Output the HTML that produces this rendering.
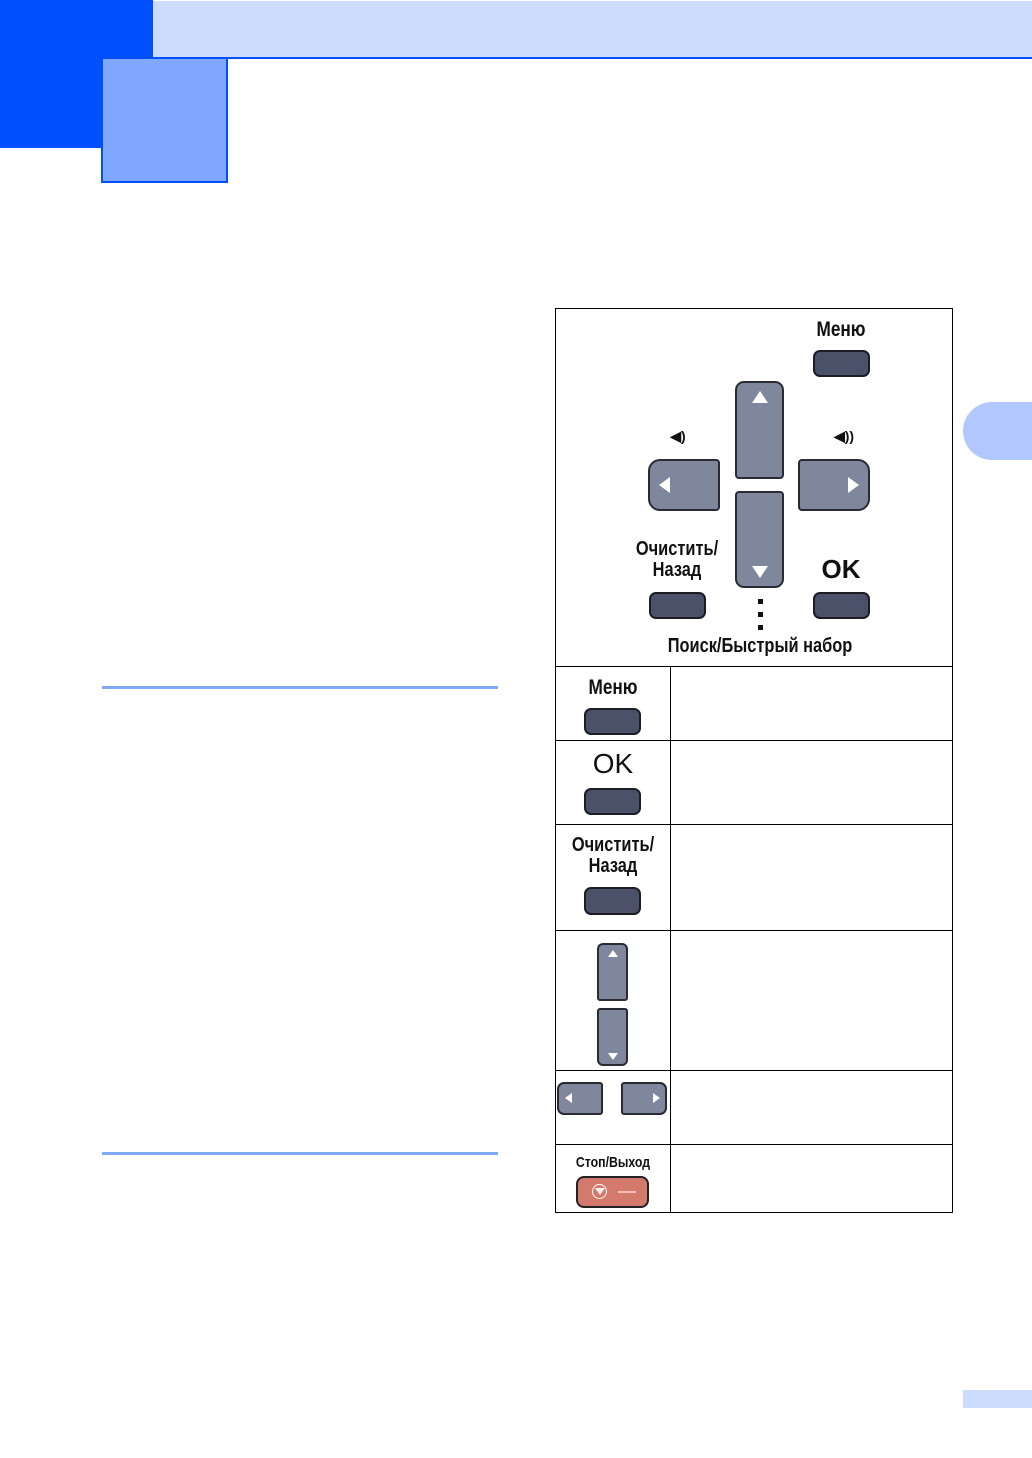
<!DOCTYPE html>
<html><head><meta charset="utf-8"><style>
html,body{margin:0;padding:0;}
body{width:1032px;height:1458px;position:relative;background:#fff;overflow:hidden;font-family:"Liberation Sans",sans-serif;}
.a{position:absolute;box-sizing:border-box;}
.dk{background:#4b5169;border:2px solid #1c1c24;border-radius:7px;}
.gr{background:#7f879d;border:2px solid #2a2a33;border-radius:6px;}
.t{position:absolute;font-weight:bold;color:#111;white-space:nowrap;transform:scaleX(0.82);transform-origin:center;text-align:center;}
.tri{position:absolute;width:0;height:0;}
.ln{position:absolute;background:#000;}
</style></head><body>
<div class="a" style="left:0;top:0;width:153px;height:148px;background:#0050ff"></div>
<div class="a" style="left:153px;top:1px;width:879px;height:56px;background:#ccdcff"></div>
<div class="a" style="left:153px;top:57px;width:879px;height:2px;background:#0050ff"></div>
<div class="a" style="left:101px;top:57px;width:127px;height:126px;background:#80a8ff;border:2px solid #0050ff"></div>
<div class="a" style="left:963px;top:402px;width:69px;height:58px;background:#b0c8ff;border-radius:29px 0 0 29px"></div>
<div class="a" style="left:963px;top:1390px;width:69px;height:18px;background:#ccdcff"></div>
<div class="a" style="left:102px;top:686px;width:396px;height:3px;background:#80a8ff"></div>
<div class="a" style="left:102px;top:1152px;width:396px;height:3px;background:#80a8ff"></div>

<!-- table -->
<div class="a" style="left:555px;top:308px;width:398px;height:905px;border:1px solid #000"></div>
<div class="ln" style="left:670px;top:666px;width:1px;height:546px"></div>
<div class="ln" style="left:555px;top:666px;width:398px;height:1px"></div>
<div class="ln" style="left:555px;top:740px;width:398px;height:1px"></div>
<div class="ln" style="left:555px;top:824px;width:398px;height:1px"></div>
<div class="ln" style="left:555px;top:930px;width:398px;height:1px"></div>
<div class="ln" style="left:555px;top:1070px;width:398px;height:1px"></div>
<div class="ln" style="left:555px;top:1144px;width:398px;height:1px"></div>

<!-- top panel -->
<div class="t" style="left:800px;top:318px;width:82px;font-size:21px">Меню</div>
<div class="a dk" style="left:813px;top:350px;width:57px;height:27px"></div>
<div class="a gr" style="left:735px;top:381px;width:49px;height:98px;border-radius:9px 9px 4px 4px"></div>
<div class="tri" style="left:752px;top:391px;border-left:8px solid transparent;border-right:8px solid transparent;border-bottom:12px solid #fff"></div>
<div class="a gr" style="left:735px;top:491px;width:49px;height:97px;border-radius:4px 4px 9px 9px"></div>
<div class="tri" style="left:752px;top:566px;border-left:8px solid transparent;border-right:8px solid transparent;border-top:12px solid #fff"></div>
<div class="a gr" style="left:648px;top:459px;width:72px;height:52px;border-radius:12px 4px 4px 12px"></div>
<div class="tri" style="left:659px;top:477px;border-top:8px solid transparent;border-bottom:8px solid transparent;border-right:11px solid #fff"></div>
<div class="a gr" style="left:798px;top:459px;width:72px;height:52px;border-radius:4px 12px 12px 4px"></div>
<div class="tri" style="left:848px;top:477px;border-top:8px solid transparent;border-bottom:8px solid transparent;border-left:11px solid #fff"></div>
<div class="t" style="left:660px;top:428px;width:36px;font-size:14px;transform:none">◀)</div>
<div class="t" style="left:826px;top:428px;width:36px;font-size:14px;transform:none">◀))</div>
<div class="t" style="left:620px;top:539px;width:114px;font-size:20px;line-height:21px">Очистить/<br>Назад</div>
<div class="t" style="left:810px;top:554px;width:62px;font-size:26px;transform:none">OK</div>
<div class="a dk" style="left:649px;top:592px;width:57px;height:27px"></div>
<div class="a dk" style="left:813px;top:592px;width:57px;height:27px"></div>
<div class="a" style="left:758px;top:599px;width:5px;height:5px;background:#111"></div>
<div class="a" style="left:758px;top:612px;width:5px;height:5px;background:#111"></div>
<div class="a" style="left:758px;top:625px;width:5px;height:5px;background:#111"></div>
<div class="t" style="left:640px;top:635px;width:240px;font-size:20px">Поиск/Быстрый набор</div>

<!-- rows -->
<div class="t" style="left:572px;top:676px;width:82px;font-size:21px">Меню</div>
<div class="a dk" style="left:584px;top:708px;width:57px;height:27px"></div>
<div class="t" style="left:580px;top:748px;width:66px;font-size:28px;transform:none;font-weight:normal">OK</div>
<div class="a dk" style="left:584px;top:788px;width:57px;height:27px"></div>
<div class="t" style="left:556px;top:835px;width:114px;font-size:20px;line-height:21px">Очистить/<br>Назад</div>
<div class="a dk" style="left:584px;top:887px;width:57px;height:28px"></div>

<div class="a gr" style="left:597px;top:943px;width:31px;height:58px;border-radius:6px 6px 3px 3px"></div>
<div class="tri" style="left:608px;top:950px;border-left:5px solid transparent;border-right:5px solid transparent;border-bottom:7px solid #fff"></div>
<div class="a gr" style="left:597px;top:1008px;width:31px;height:58px;border-radius:3px 3px 6px 6px"></div>
<div class="tri" style="left:608px;top:1053px;border-left:5px solid transparent;border-right:5px solid transparent;border-top:7px solid #fff"></div>
<div class="a gr" style="left:557px;top:1082px;width:46px;height:33px;border-radius:7px 3px 3px 7px"></div>
<div class="tri" style="left:565px;top:1093px;border-top:5px solid transparent;border-bottom:5px solid transparent;border-right:7px solid #fff"></div>
<div class="a gr" style="left:621px;top:1082px;width:46px;height:33px;border-radius:3px 7px 7px 3px"></div>
<div class="tri" style="left:653px;top:1093px;border-top:5px solid transparent;border-bottom:5px solid transparent;border-left:7px solid #fff"></div>

<div class="t" style="left:556px;top:1154px;width:114px;font-size:15px">Стоп/Выход</div>
<div class="a" style="left:576px;top:1176px;width:73px;height:32px;background:#d47a6c;border:2px solid #222;border-radius:8px"></div>
<div class="a" style="left:592px;top:1184px;width:15px;height:15px;border:1.5px solid #fff;border-radius:50%"></div>
<div class="tri" style="left:595px;top:1188px;border-left:5px solid transparent;border-right:5px solid transparent;border-top:7px solid #fff;opacity:.9"></div>
<div class="a" style="left:618px;top:1191px;width:18px;height:2px;background:#f3c0b8"></div>
</body></html>
